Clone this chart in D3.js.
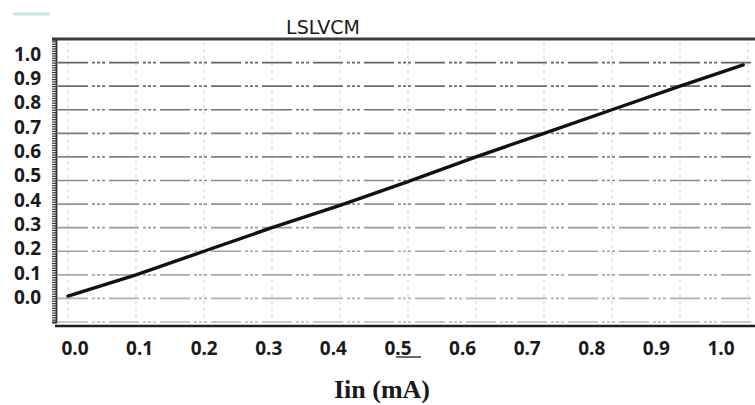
<!DOCTYPE html>
<html>
<head>
<meta charset="utf-8">
<script src="https://cdn.jsdelivr.net/npm/d3@7/dist/d3.min.js"></script>
<style>
  html, body { margin: 0; padding: 0; background: #fff; }
  svg { display: block; }
</style>
</head>
<body>
<svg id="chart" width="755" height="405"></svg>
<script>
// Transfer characteristic: output vs. input current
const title = "LSLVCM";
const xTitle = "Iin (mA)";
const iin  = [0.0, 0.1, 0.2, 0.3, 0.4, 0.5, 0.6, 0.7, 0.8, 0.9, 0.993];
const vout = [0.01, 0.10, 0.20, 0.30, 0.395, 0.495, 0.60, 0.70, 0.80, 0.90, 0.99];
const xTicks = [0.0, 0.1, 0.2, 0.3, 0.4, 0.5, 0.6, 0.7, 0.8, 0.9, 1.0];
const yTicks = [0.0, 0.1, 0.2, 0.3, 0.4, 0.5, 0.6, 0.7, 0.8, 0.9, 1.0];
const yGrid  = [-0.1, 0.0, 0.1, 0.2, 0.3, 0.4, 0.5, 0.6, 0.7, 0.8, 0.9, 1.0];

const svg = d3.select("#chart");

// plot scales
const x = d3.scaleLinear().domain([0, 1]).range([68, 748]);
const y = d3.scaleLinear().domain([-0.1, 1.1]).range([322, 39]);
// tick-label placement
const xLab = d3.scaleLinear().domain([0, 1]).range([75, 721]);
const yLab = d3.scaleLinear().domain([0, 1]).range([297, 54]);

// small legend swatch
svg.append("line")
  .attr("x1", 13).attr("x2", 50).attr("y1", 14).attr("y2", 14)
  .attr("stroke", "#c3e8e1").attr("stroke-width", 3);

// vertical grid
svg.append("g").selectAll("line").data(xTicks).join("line")
  .attr("x1", d => x(d)).attr("x2", d => x(d))
  .attr("y1", 42).attr("y2", 322)
  .attr("stroke", "#cfcfcf").attr("stroke-width", 1)
  .attr("stroke-dasharray", "3,4");

// horizontal grid
const gridColor = d3.scaleLinear().domain([-0.1, 1.0]).range(["#b8b8b8", "#666"]);
svg.append("g").selectAll("line").data(yGrid).join("line")
  .attr("x1", 58).attr("x2", 755)
  .attr("y1", d => y(d)).attr("y2", d => y(d))
  .attr("stroke", d => gridColor(d)).attr("stroke-width", 1.6)
  .attr("stroke-dasharray", "30,4,3,2,3,2,3,4");

// frame: top and bottom borders
svg.append("line")
  .attr("x1", 52).attr("x2", 755).attr("y1", 39).attr("y2", 39)
  .attr("stroke", "#3c3c3c").attr("stroke-width", 3.2);
svg.append("line")
  .attr("x1", 55).attr("x2", 755).attr("y1", 326).attr("y2", 326)
  .attr("stroke", "#1e1e1e").attr("stroke-width", 2.4);

// left axis with dense minor ticks
const minor = d3.range(-10, 111).map(i => i / 100);
const yAxis = d3.axisLeft(y).tickValues(minor).tickSize(4).tickFormat("");
const gy = svg.append("g").attr("transform", "translate(56,0)").call(yAxis);
gy.select(".domain").attr("stroke", "#333").attr("stroke-width", 1.8);
gy.selectAll(".tick line").attr("stroke", "#333").attr("stroke-width", 1.2);

// y tick labels
svg.append("g").selectAll("text").data(yTicks).join("text")
  .attr("x", 41).attr("y", d => yLab(d))
  .attr("dy", "0.36em")
  .attr("text-anchor", "end")
  .attr("font-family", "Noto Sans, Open Sans, sans-serif")
  .attr("font-weight", "bold").attr("font-size", 19)
  .attr("fill", "#1a1a1a")
  .text(d => d3.format(".1f")(d));

// x tick labels
svg.append("g").selectAll("text").data(xTicks).join("text")
  .attr("x", d => xLab(d)).attr("y", 348)
  .attr("dy", "0.36em")
  .attr("text-anchor", "middle")
  .attr("font-family", "Noto Sans, Open Sans, sans-serif")
  .attr("font-weight", "bold").attr("font-size", 19)
  .attr("fill", "#1a1a1a")
  .text(d => d3.format(".1f")(d));

// short dash under the 0.5 label
svg.append("line")
  .attr("x1", 396).attr("x2", 421).attr("y1", 357).attr("y2", 357)
  .attr("stroke", "#444").attr("stroke-width", 1.6);

// data curve
const pts = iin.map((v, i) => [v, vout[i]]);
svg.append("path")
  .datum(pts)
  .attr("fill", "none")
  .attr("stroke", "#111")
  .attr("stroke-width", 3.4)
  .attr("stroke-linecap", "round")
  .attr("d", d3.line().x(d => x(d[0])).y(d => y(d[1])));

// title
svg.append("text")
  .attr("x", 323).attr("y", 34)
  .attr("text-anchor", "middle")
  .attr("font-family", "DejaVu Sans, Verdana, sans-serif")
  .attr("font-size", 19)
  .attr("fill", "#1a1a1a")
  .text(title);

// x-axis title
svg.append("text")
  .attr("x", 382).attr("y", 398)
  .attr("text-anchor", "middle")
  .attr("font-family", "Liberation Serif, Times New Roman, serif")
  .attr("font-weight", "bold").attr("font-size", 26)
  .attr("fill", "#1a1a1a")
  .text(xTitle);
</script>
</body>
</html>
